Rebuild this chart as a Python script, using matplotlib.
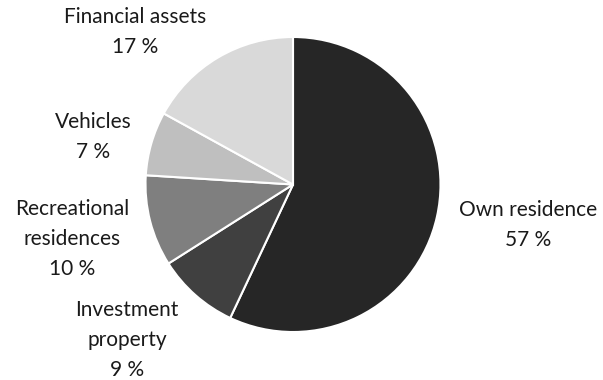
import matplotlib
matplotlib.use("Agg")
import matplotlib.pyplot as plt

categories = ["Own residence", "Investment\nproperty", "Recreational\nresidences", "Vehicles", "Financial assets"]
shares = [57, 9, 10, 7, 17]
colors = ["#262626", "#404040", "#7f7f7f", "#bfbfbf", "#d9d9d9"]

W, H = 603, 380
fig = plt.figure(figsize=(W / 100, H / 100), dpi=100)

# pie box in pixels: centre (293, 184), radius 147.5
cx, cy, r = 293, 184.5, 147.5
ax = fig.add_axes([(cx - r) / W, (H - cy - r) / H, 2 * r / W, 2 * r / H])
ax.pie(shares, colors=colors, startangle=90, counterclock=False,
       wedgeprops=dict(edgecolor="white", linewidth=1.5))
ax.set_xlim(-1, 1)
ax.set_ylim(-1, 1)
ax.axis("off")

# label anchor points in pixels (centre of text block)
label_px = [(528, 225), (127, 340), (72, 239), (93, 137), (135, 32)]
for name, val, (px, py) in zip(categories, shares, label_px):
    fig.text(px / W, 1 - py / H, f"{name}\n{val} %", ha="center", va="center",
             fontsize=15, family=["Lato", "DejaVu Sans"], color="#1a1a1a",
             linespacing=1.6)

fig.savefig("out.png", dpi=100)
